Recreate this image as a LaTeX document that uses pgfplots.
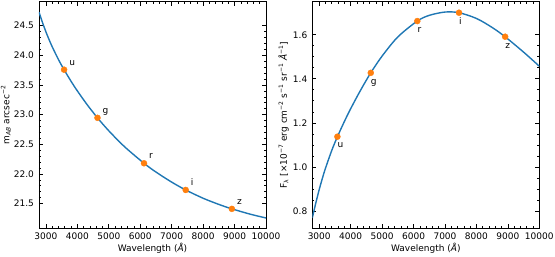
\documentclass[border=0pt]{standalone}
\usepackage{pgfplots}
\pgfplotsset{compat=1.18}
\usepackage{pgfplotstable}
\usepackage{fontspec}
\setmainfont{DejaVu Sans}
\definecolor{mplblue}{HTML}{1F77B4}
\definecolor{mplorange}{HTML}{FF7F0E}

\pgfplotstableread{
lam m
2780 24.731
2900 24.540
3000 24.397
3100 24.266
3200 24.145
3400 23.928
3573 23.762
3800 23.562
4000 23.400
4300 23.176
4635 22.949
5000 22.727
5500 22.459
6118 22.180
6500 22.031
7000 21.861
7445 21.729
8000 21.589
8500 21.485
8910 21.411
9500 21.320
10000 21.256
}\leftcurve

\pgfplotstableread{
lam F
2780 0.768
2900 0.841
3000 0.897
3100 0.9475
3200 0.994
3400 1.075
3573 1.135
3800 1.206
4000 1.264
4300 1.344
4635 1.426
5000 1.503
5500 1.590
6118 1.662
6500 1.688
7000 1.703
7445 1.700
8000 1.674
8500 1.633
8910 1.591
9500 1.521
10000 1.457
}\rightcurve

\pgfplotstableread{
lam m F name
3578 23.758 1.137 u
4640 22.946 1.427 g
6120 22.179 1.662 r
7446 21.729 1.700 i
8914 21.410 1.591 z
}\bands

\pgfplotsset{
  panel/.style={
    scale only axis,
    width=227pt, height=226.6pt,
    font=\fontsize{9pt}{11pt}\selectfont,
    xmin=2780, xmax=10000,
    xtick={3000,4000,5000,6000,7000,8000,9000,10000},
    scaled x ticks=false, scaled y ticks=false,
    minor x tick num=4,
    tick align=inside,
    xtick pos=both, ytick pos=both,
    major tick length=4pt, minor tick length=2pt,
    every tick/.style={black, line width=0.6pt},
    axis line style={line width=0.8pt},
    /pgf/number format/assume math mode=true,
    /pgf/number format/1000 sep={},
    xticklabel style={yshift=-0.6pt},
    yticklabel style={xshift=-1.5pt, /pgf/number format/.cd, fixed, fixed zerofill, precision=1},
    xlabel={Wavelength (\textit{Å})},
    every axis x label/.style={at={(axis description cs:0.5,-0.103)}, anchor=base},
  },
  curve/.style={mplblue, line width=1.4pt, smooth, no markers},
  dots/.style={only marks, mark=*, mark size=3pt,
    mark options={draw=mplorange, fill=mplorange},
    nodes near coords, point meta=explicit symbolic},
}

\begin{document}
\begin{tikzpicture}[font=\fontsize{9pt}{11pt}\selectfont]
\useasboundingbox (0,0) rectangle (555pt,257pt);

\begin{axis}[panel,
  at={(39pt,28.7pt)}, anchor=south west,
  ymin=21.082, ymax=24.905,
  ytick={21.5,22.0,22.5,23.0,23.5,24.0,24.5},
  minor y tick num=4,
  ylabel={m\textsubscript{\textit{AB}} arcsec\textsuperscript{−2}},
  every axis y label/.style={at={(axis description cs:-0.131,0.5)}, rotate=90, anchor=base},
]
\addplot[curve] table[x=lam, y=m] {\leftcurve};
\addplot[dots, every node near coord/.style={anchor=base west, inner sep=0pt, xshift=5pt, yshift=4.5pt, text=black, font=\fontsize{9pt}{11pt}\selectfont}]
  table[x=lam, y=m, meta=name] {\bands};
\end{axis}

\begin{axis}[panel,
  at={(312.3pt,28.7pt)}, anchor=south west,
  ymin=0.721, ymax=1.750,
  ytick={0.8,1.0,1.2,1.4,1.6},
  minor y tick num=3,
  ylabel={F\textsubscript{λ} [×10\textsuperscript{−7} erg cm\textsuperscript{−2} s\textsuperscript{−1} sr\textsuperscript{−1} \textit{Å}\textsuperscript{−1}]},
  every axis y label/.style={at={(axis description cs:-0.112,0.5)}, rotate=90, anchor=base},
]
\addplot[curve] table[x=lam, y=F] {\rightcurve};
\addplot[dots, every node near coord/.style={anchor=base west, inner sep=0pt, xshift=0pt, yshift=-11.3pt, text=black, font=\fontsize{9pt}{11pt}\selectfont}]
  table[x=lam, y=F, meta=name] {\bands};
\end{axis}
\end{tikzpicture}
\end{document}
